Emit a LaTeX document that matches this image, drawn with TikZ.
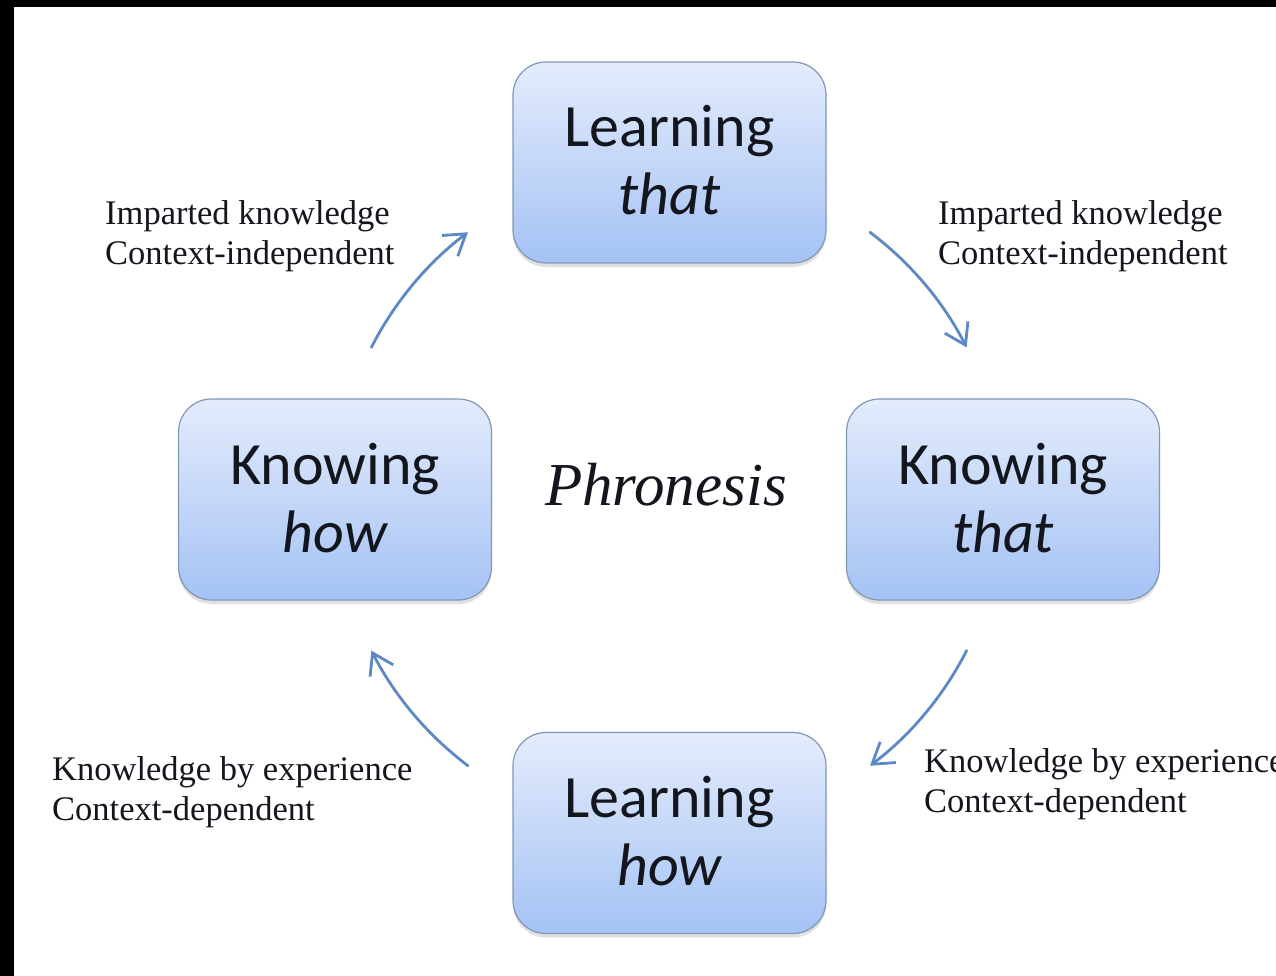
\documentclass[tikz,border=0pt]{standalone}
\usepackage{fontspec}
\setmainfont{Liberation Serif}
\newfontfamily\boxfnt{Carlito}
\usetikzlibrary{arrows.meta,shadows,calc}
\definecolor{boxtop}{RGB}{228,236,252}
\definecolor{boxbot}{RGB}{164,194,244}
\definecolor{boxline}{RGB}{130,150,182}
\definecolor{arrowblue}{RGB}{92,137,197}
\definecolor{inktxt}{RGB}{20,22,30}
\begin{document}
\begin{tikzpicture}[x=1pt,y=1pt,
  stagebox/.style={draw=boxline, line width=1.2pt, rounded corners=33pt,
    minimum width=313pt, minimum height=201pt, inner sep=0pt,
    top color=boxtop, bottom color=boxbot,
    drop shadow={shadow xshift=0pt, shadow yshift=-4pt, opacity=0.2, fill=black!60}},
  boxtxt/.style={font=\boxfnt\fontsize{60}{68}\selectfont, text=inktxt, anchor=base, inner sep=0pt},
  lbl/.style={font=\fontsize{34.5}{40}\selectfont, text=inktxt, anchor=base west, inner sep=0pt},
  arr/.style={draw=arrowblue, line width=2.8pt, line cap=round,
    -{Straight Barb[length=20pt,width=26pt,line width=2.8pt]}}]
\useasboundingbox (0,0) rectangle (1276,-976);
\fill[white] (0,0) rectangle (1276,-976);
\fill[black] (0,0) rectangle (1276,-7);
\fill[black] (0,0) rectangle (14,-976);

% boxes
\node[stagebox] (lt) at (669.5,-162.5) {};
\node[stagebox] (kh) at (335,-499.5) {};
\node[stagebox] (kt) at (1003,-499.5) {};
\node[stagebox] (lh) at (669.5,-833) {};

\node[boxtxt] (lt1) at ($(lt.center)+(0,15.5)$) {Learning};
\node[boxtxt] (lt2) at ($(lt.center)+(0,-52.5)$) {\itshape that};
\node[boxtxt] (kh1) at ($(kh.center)+(0,15.5)$) {Knowing};
\node[boxtxt] (kh2) at ($(kh.center)+(0,-52.5)$) {\itshape how};
\node[boxtxt] (kt1) at ($(kt.center)+(0,15.5)$) {Knowing};
\node[boxtxt] (kt2) at ($(kt.center)+(0,-52.5)$) {\itshape that};
\node[boxtxt] (lh1) at ($(lh.center)+(0,15.5)$) {Learning};
\node[boxtxt] (lh2) at ($(lh.center)+(0,-52.5)$) {\itshape how};

% centre
\node[font=\itshape\fontsize{61}{72}\selectfont, text=inktxt, anchor=base, inner sep=0pt] (ph) at (666,-505) {Phronesis};

% labels
\node[lbl] (l1a) at (105,-225) {Imparted knowledge};
\node[lbl] (l1b) at (105,-265) {Context-independent};
\node[lbl] (r1a) at (938,-225) {Imparted knowledge};
\node[lbl] (r1b) at (938,-265) {Context-independent};
\node[lbl] (l2a) at (52,-780) {Knowledge by experience};
\node[lbl] (l2b) at (52,-820) {Context-dependent};
\node[lbl] (r2a) at (924,-772) {Knowledge by experience};
\node[lbl] (r2b) at (924,-812) {Context-dependent};

% arrows on a circle round the centre
\coordinate (o) at (669,-499);
\coordinate (a1) at ($(o)+(153:334)$);
\coordinate (a2) at ($(o)+(53:334)$);
\coordinate (a3) at ($(o)+(-27:334)$);
\coordinate (a4) at ($(o)+(233:334)$);
\draw[arr] (a1) arc[start angle=153, end angle=127, radius=334];
\draw[arr] (a2) arc[start angle=53, end angle=27, radius=334];
\draw[arr] (a3) arc[start angle=-27, end angle=-53, radius=334];
\draw[arr] (a4) arc[start angle=233, end angle=207, radius=334];
\end{tikzpicture}
\end{document}
